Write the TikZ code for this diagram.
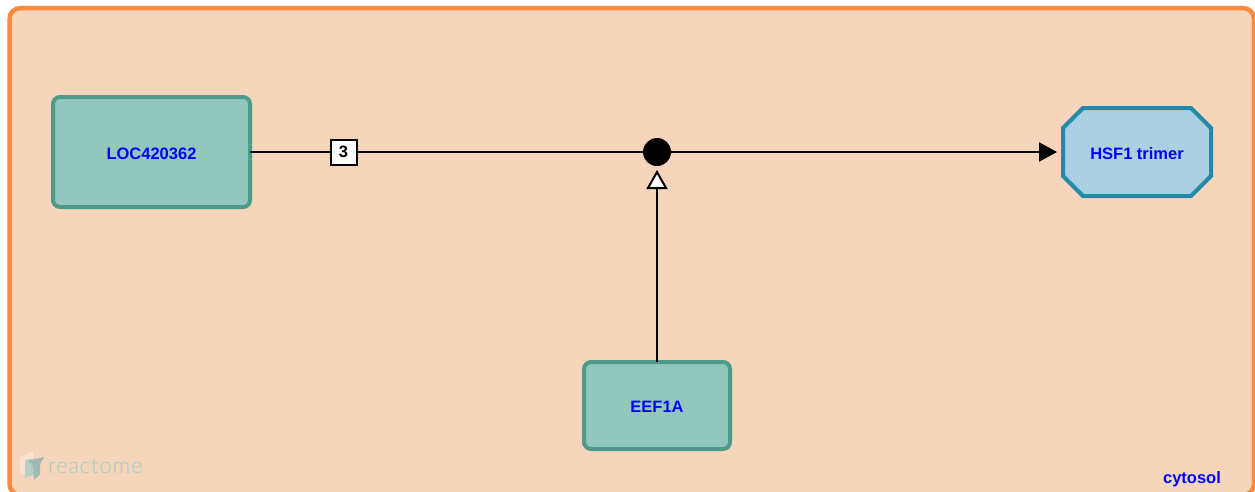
\documentclass[tikz,border=0pt]{standalone}
\usepackage{fontspec}
\setmainfont{Liberation Sans}
\newfontfamily\logofont[LetterSpace=4]{Lato Light}
\usetikzlibrary{arrows.meta,shapes.misc}
\definecolor{compfill}{HTML}{F5D6BB}
\definecolor{compline}{HTML}{FF8A3D}
\definecolor{protfill}{HTML}{92C8BC}
\definecolor{protline}{HTML}{4F9A88}
\definecolor{cplxfill}{HTML}{ABD0E4}
\definecolor{cplxline}{HTML}{2389A8}
\definecolor{labelblue}{HTML}{0000FF}
\definecolor{logotext}{HTML}{9CCCCB}
\tikzset{
  x=1pt,y=-1pt,
  every node/.style={inner sep=0pt,outer sep=0pt},
  label text/.style={text=labelblue,font=\fontsize{16.5}{18}\selectfont\bfseries},
  centred label/.style={label text,text height=14pt,text depth=0pt},
  protein/.style={draw=protline,fill=protfill,line width=4pt,rounded corners=7pt,centred label,anchor=center},
  complexbox/.style={draw=cplxline,fill=cplxfill,line width=4pt,chamfered rectangle,chamfered rectangle xsep=13pt,chamfered rectangle ysep=13pt,centred label},
  edge line/.style={draw=black,line width=2pt},
  processdot/.style={circle,fill=black,minimum size=28pt},
  stoich/.style={draw=black,fill=white,line width=2pt,minimum width=26pt,minimum height=25pt,font=\fontsize{16.5}{18}\selectfont\bfseries},
}
\begin{document}
\begin{tikzpicture}
\useasboundingbox (0,0) rectangle (1255,491);
\path[fill=white] (0,0) rectangle (1255,491);
\draw[draw=compline,fill=compfill,line width=4.5pt,rounded corners=11pt] (9.5,8) rectangle (1254,495);
% logo
\fill[white!35!compfill] (20,458) -- (33,451) -- (35,472) -- (20,474) -- cycle;
\fill[logotext!70!compfill] (25,460) -- (36,458) -- (36,474) -- (25,478) -- cycle;
\fill[cplxline!40!compfill] (28,461) -- (44,457) -- (40,464) -- (40,474) -- (34,480) -- (33,466) -- cycle;
\node[anchor=west,text=logotext,font=\logofont\fontsize{22}{24}\selectfont] (logo) at (48,466.5) {reactome};
\node[label text,anchor=base] (cyto) at (1192,483) {cytosol};
\node[protein,minimum width=197pt,minimum height=110pt] (loc) at (151.5,152) {LOC420362};
\node[protein,minimum width=146pt,minimum height=87pt] (eef) at (657,405.5) {EEF1A};
\node[complexbox,minimum width=148pt,minimum height=88pt] (hsf) at (1137,152) {HSF1 trimer};
\node[processdot] (proc) at (657,152) {};
\draw[edge line] (loc.east) -- (proc.center);
\draw[edge line,-{Triangle[length=18pt,width=19pt]},shorten >=6pt] (proc) -- (hsf.west);
\draw[edge line,-{Triangle[open,fill=white,length=19pt,width=21pt]},shorten >=4pt] (eef.north) -- (proc.south);
\node[stoich] (st) at (343.5,152) {3};
\end{tikzpicture}
\end{document}
